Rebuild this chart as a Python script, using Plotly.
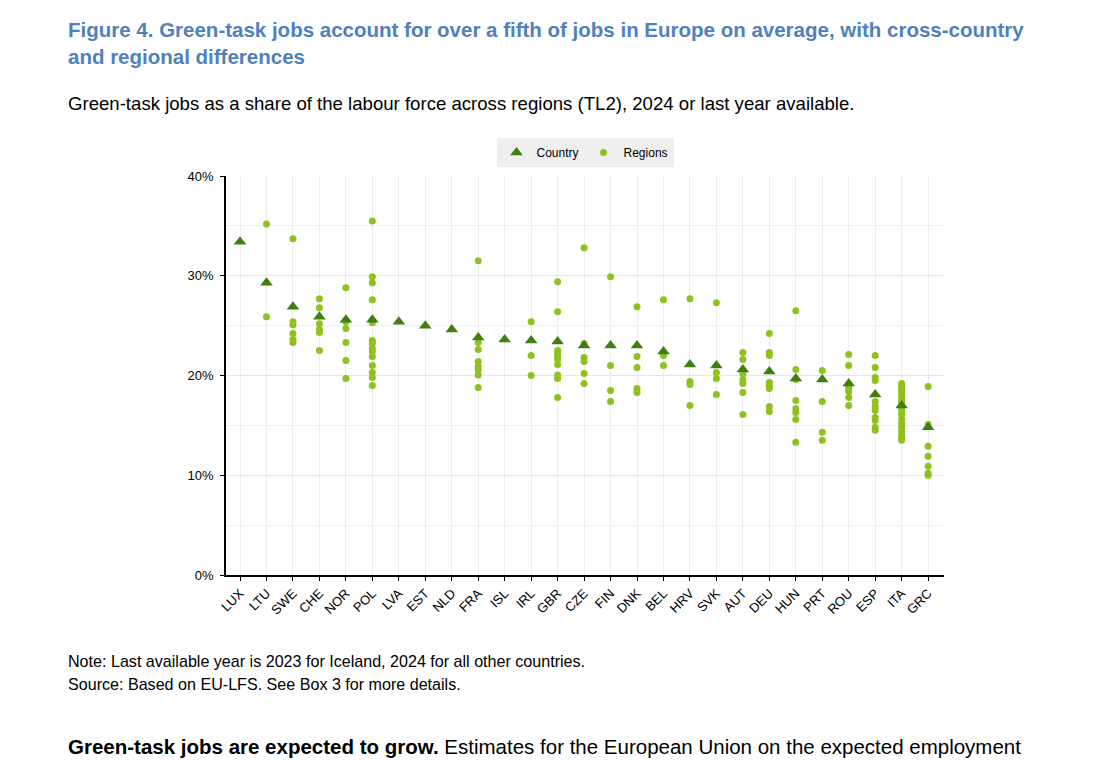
import plotly.graph_objects as go

countries = ["LUX", "LTU", "SWE", "CHE", "NOR", "POL", "LVA", "EST", "NLD", "FRA", "ISL", "IRL", "GBR", "CZE",
             "FIN", "DNK", "BEL", "HRV", "SVK", "AUT", "DEU", "HUN", "PRT", "ROU", "ESP", "ITA", "GRC"]

country_values = [33.4, 29.3, 26.9, 25.9, 25.6, 25.6, 25.4, 25.0, 24.6, 23.8, 23.6, 23.5, 23.4, 23.0,
                  23.0, 23.0, 22.4, 21.1, 21.0, 20.6, 20.4, 19.7, 19.6, 19.2, 18.1, 17.0, 14.8]

region_values = {
    "LUX": [],
    "LTU": [35.2, 25.9],
    "SWE": [33.7, 25.4, 25.1, 24.2, 23.6, 23.3],
    "CHE": [27.7, 26.8, 25.2, 24.6, 24.3, 22.5],
    "NOR": [28.8, 25.4, 24.7, 23.3, 21.5, 19.7],
    "POL": [35.5, 29.9, 29.3, 27.6, 25.3, 23.5, 23.2, 22.7, 22.4, 21.9, 21.0, 20.3, 19.8, 19.0],
    "LVA": [],
    "EST": [],
    "NLD": [],
    "FRA": [31.5, 23.3, 22.6, 21.4, 20.9, 20.6, 20.05, 18.8],
    "ISL": [],
    "IRL": [25.4, 22.0, 20.0],
    "GBR": [29.4, 26.4, 22.5, 22.2, 21.8, 21.6, 21.1, 20.05, 19.7, 17.8],
    "CZE": [32.8, 23.2, 21.8, 21.4, 20.2, 19.2],
    "FIN": [29.9, 21.0, 18.5, 17.4],
    "DNK": [26.9, 21.9, 20.8, 18.7, 18.3],
    "BEL": [27.6, 22.0, 21.0],
    "HRV": [27.7, 19.4, 19.1, 17.0],
    "SVK": [27.3, 20.3, 19.7, 18.1],
    "AUT": [22.3, 21.6, 20.2, 19.6, 19.2, 18.3, 16.1],
    "DEU": [24.2, 22.3, 22.0, 19.3, 19.0, 18.7, 16.9, 16.4],
    "HUN": [26.5, 20.6, 19.6, 17.5, 16.7, 16.3, 15.6, 13.3],
    "PRT": [20.5, 17.4, 14.3, 13.5],
    "ROU": [22.1, 21.0, 18.9, 18.6, 18.4, 17.8, 17.0],
    "ESP": [22.0, 20.8, 19.8, 19.5, 17.4, 16.9, 16.5, 15.8, 15.5, 14.8, 14.5],
    "ITA": [19.2, 18.9, 18.6, 18.3, 18.0, 17.6, 17.3, 16.9, 16.5, 16.1, 15.6, 15.2,
            14.8, 14.4, 14.0, 13.7, 13.5],
    "GRC": [18.9, 15.1, 12.9, 11.9, 10.9, 10.2, 10.0],
}

y_tick_vals = [0, 10, 20, 30, 40]
y_tick_text = ["0%", "10%", "20%", "30%", "40%"]

NARROW = "Liberation Sans Narrow, Arial Narrow, Liberation Sans, Arial, sans-serif"

reg_x, reg_y = [], []
for c in countries:
    for v in region_values[c]:
        reg_x.append(c)
        reg_y.append(v)

fig = go.Figure()
fig.add_trace(go.Scatter(
    x=reg_x, y=reg_y, mode="markers", name="Regions",
    marker=dict(symbol="circle", size=7, color="#8dc21f"),
    legendrank=2,
))
fig.add_trace(go.Scatter(
    x=countries, y=country_values, mode="markers", name="Country",
    marker=dict(symbol="triangle-up", size=11, color="#3f7f10"),
    legendrank=1,
))

fig.update_layout(
    width=1120, height=760,
    margin=dict(l=226, r=176, t=176, b=185),
    paper_bgcolor="white", plot_bgcolor="white",
    font=dict(family=NARROW, size=12, color="black"),
    showlegend=True,
    legend=dict(
        orientation="h", x=0.5, xanchor="center", y=1.095, yanchor="top",
        bgcolor="#efefef", font=dict(size=12, family=NARROW),
        itemwidth=30, traceorder="normal", tracegroupgap=0,
        borderwidth=0,
    ),
    xaxis=dict(
        type="category", categoryorder="array", categoryarray=countries,
        range=[-0.53, 26.6],
        showgrid=True, gridcolor="#ececec", gridwidth=1,
        showline=True, linecolor="black", linewidth=1.5,
        ticks="outside", ticklen=4, tickcolor="black",
        tickangle=-45, tickfont=dict(size=13, family=NARROW),
        zeroline=False,
    ),
    yaxis=dict(
        range=[0, 40], tickvals=y_tick_vals, ticktext=y_tick_text,
        showgrid=True, gridcolor="#e6e6e6", gridwidth=1,
        minor=dict(dtick=5, showgrid=True, gridcolor="#f0f0f0", gridwidth=1),
        showline=True, linecolor="black", linewidth=1.5,
        ticks="outside", ticklen=4, tickcolor="black",
        tickfont=dict(size=13, family=NARROW),
        ticklabelstandoff=4,
        zeroline=False,
    ),
)

annotations = [
    dict(text="Figure 4. Green-task jobs account for over a fifth of jobs in Europe on average, with cross-country",
         x=66, y=29, font=dict(size=20.5, color="#4f81bd", family=NARROW), bold=True),
    dict(text="and regional differences",
         x=66, y=57, font=dict(size=20.5, color="#4f81bd", family=NARROW), bold=True),
    dict(text="Green-task jobs as a share of the labour force across regions (TL2), 2024 or last year available.",
         x=66, y=103, font=dict(size=18.6, color="black", family=NARROW)),
    dict(text="Note: Last available year is 2023 for Iceland, 2024 for all other countries.",
         x=66, y=661, font=dict(size=16.1, color="black", family=NARROW)),
    dict(text="Source: Based on EU-LFS. See Box 3 for more details.",
         x=66, y=684, font=dict(size=16.1, color="black", family=NARROW)),
    dict(text="<b>Green-task jobs are expected to grow.</b> Estimates for the European Union on the expected employment",
         x=66, y=746, font=dict(size=20.5, color="black", family="Liberation Sans, Arial, sans-serif")),
]
for a in annotations:
    txt = a["text"]
    if a.get("bold"):
        txt = "<b>" + txt + "</b>"
    fig.add_annotation(
        text=txt, xref="paper", yref="paper",
        x=(a["x"] - 226) / (1120 - 226 - 176),
        y=1 - (a["y"] - 176) / (760 - 176 - 185),
        xanchor="left", yanchor="middle", showarrow=False,
        font=a["font"], align="left",
    )

fig.write_html("out.html")
